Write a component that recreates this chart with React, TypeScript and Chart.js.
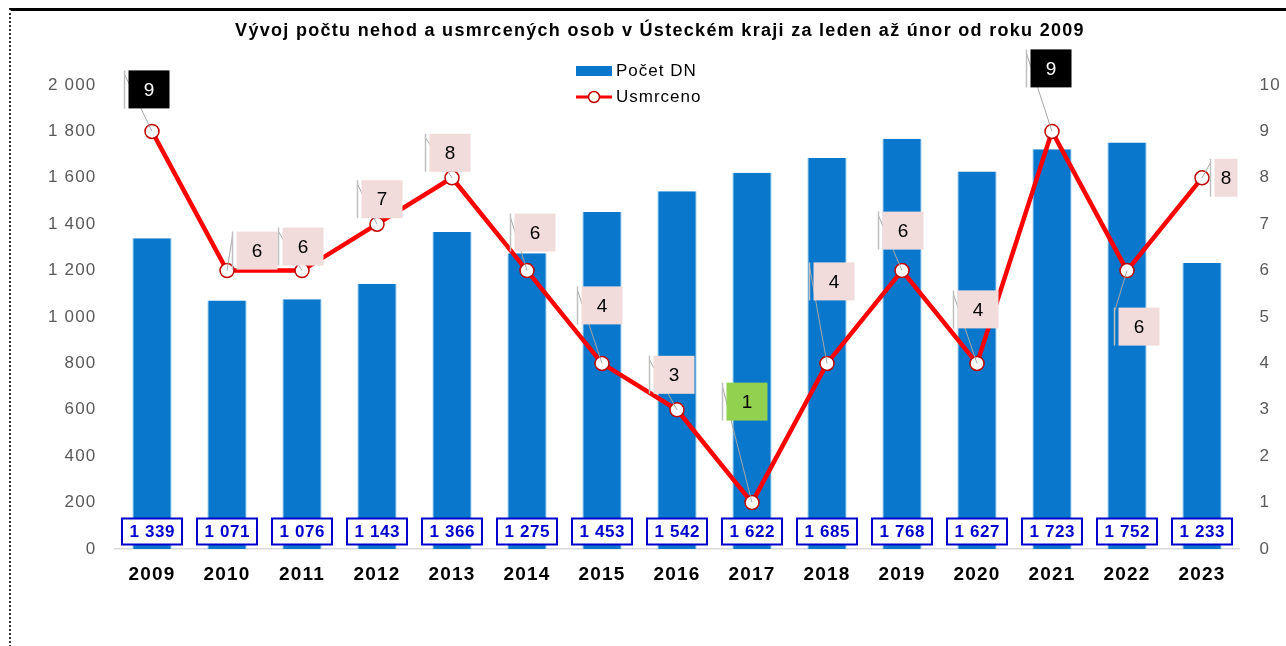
import React, { useEffect, useRef } from "react";
import { Chart, registerables } from "chart.js";

Chart.register(...registerables);

const TITLE = "Vývoj počtu nehod a usmrcených osob v Ústeckém kraji za leden až únor od roku 2009";
const years = ["2009", "2010", "2011", "2012", "2013", "2014", "2015", "2016", "2017", "2018", "2019", "2020", "2021", "2022", "2023"];
const accidents = [1339, 1071, 1076, 1143, 1366, 1275, 1453, 1542, 1622, 1685, 1768, 1627, 1723, 1752, 1233];
const deaths = [9, 6, 6, 7, 8, 6, 4, 3, 1, 4, 6, 4, 9, 6, 8];
const seriesNames = ["Počet DN", "Usmrceno"];
// label placement offsets (px) relative to the point (style only)
const labelDx = [-3, 30, 1, 5, -2, 8, 0, -3, -5, 7, 1, 1, -1, 12, 33];
const labelDy = [-42, -20, -24, -25, -25, -38, -58, -35, -101, -82, -40, -54, -63, 56, 0];

const BAR_COLOR = "#0877CC";
const FONT = "Arial, 'Liberation Sans', sans-serif";
const fmt = (v: number) => String(Math.round(v)).replace(/\B(?=(\d{3})+(?!\d))/g, " ");

const customPlugin = {
  id: "customDraw",
  beforeDraw(chart: any) {
    const ctx = chart.ctx;
    ctx.fillStyle = "#fff";
    ctx.fillRect(0, 0, chart.width, chart.height);
    ctx.letterSpacing = "1.2px";
  },
  afterDatasetsDraw(chart: any) {
    const ctx = chart.ctx;
    const area = chart.chartArea;
    const barMeta = chart.getDatasetMeta(0);
    const lineMeta = chart.getDatasetMeta(1);
    const yBottom = chart.scales.y.getPixelForValue(0);
    // bar value boxes
    ctx.save();
    ctx.letterSpacing = "0.6px";
    ctx.font = `bold 17px ${FONT}`;
    ctx.textAlign = "center";
    ctx.textBaseline = "middle";
    barMeta.data.forEach((bar: any, i: number) => {
      const w = 60, h = 26;
      const cx = bar.x, cy = yBottom - 17.5;
      ctx.fillStyle = "#ffffff";
      ctx.fillRect(cx - w / 2, cy - h / 2, w, h);
      ctx.strokeStyle = "#0000CC";
      ctx.lineWidth = 2;
      ctx.strokeRect(cx - w / 2, cy - h / 2, w, h);
      ctx.fillStyle = "#0000CC";
      ctx.fillText(fmt(accidents[i]), cx + 0.3, cy + 1);
    });
    ctx.restore();
    // line value labels
    ctx.save();
    ctx.beginPath();
    ctx.rect(0, 0, area.right - 2, chart.height);
    ctx.clip();
    const maxV = Math.max(...deaths);
    const minV = Math.min(...deaths);
    ctx.letterSpacing = "0px";
    ctx.font = `19px ${FONT}`;
    ctx.textAlign = "center";
    ctx.textBaseline = "middle";
    lineMeta.data.forEach((pt: any, i: number) => {
      const w = 41, h = 38;
      const cx = pt.x + labelDx[i];
      const cy = pt.y + labelDy[i];
      const left = cx - w / 2, top = cy - h / 2;
      ctx.strokeStyle = "#A6A6A6";
      ctx.lineWidth = 1;
      ctx.beginPath();
      ctx.moveTo(pt.x, pt.y);
      ctx.lineTo(left - 4, top + 4);
      ctx.stroke();
      ctx.strokeStyle = "#BFBFBF";
      ctx.lineWidth = 1.5;
      ctx.beginPath();
      ctx.moveTo(left - 4, top);
      ctx.lineTo(left - 4, top + h);
      ctx.stroke();
      let bg = "#F2DCDB", fg = "#000000";
      if (deaths[i] === maxV) { bg = "#000000"; fg = "#ffffff"; }
      else if (deaths[i] === minV) { bg = "#92D050"; fg = "#000000"; }
      ctx.fillStyle = bg;
      ctx.fillRect(left, top, w, h);
      ctx.fillStyle = fg;
      const tx = i === deaths.length - 1 ? pt.x + 24 : cx;
      ctx.fillText(String(deaths[i]), tx, cy + 1);
    });
    ctx.restore();
  },
  afterDraw(chart: any) {
    const ctx = chart.ctx;
    ctx.save();
    ctx.letterSpacing = "1.3px";
    ctx.fillStyle = "#000";
    ctx.font = `bold 18px ${FONT}`;
    ctx.textAlign = "center";
    ctx.textBaseline = "middle";
    ctx.fillText(TITLE, 660, 31);
    // legend
    ctx.letterSpacing = "1px";
    ctx.font = `17px ${FONT}`;
    ctx.textAlign = "left";
    ctx.fillStyle = BAR_COLOR;
    ctx.fillRect(576, 66, 36, 10);
    ctx.fillStyle = "#000";
    ctx.fillText(seriesNames[0], 616, 71);
    ctx.strokeStyle = "#FF0000";
    ctx.lineWidth = 3;
    ctx.beginPath();
    ctx.moveTo(576, 97);
    ctx.lineTo(612, 97);
    ctx.stroke();
    ctx.beginPath();
    ctx.arc(594, 97, 5.5, 0, Math.PI * 2);
    ctx.fillStyle = "#fff";
    ctx.fill();
    ctx.strokeStyle = "#C00000";
    ctx.lineWidth = 1.5;
    ctx.stroke();
    ctx.fillStyle = "#000";
    ctx.fillText(seriesNames[1], 616, 97);
    ctx.restore();
  },
};

export default function App() {
  const ref = useRef<HTMLCanvasElement | null>(null);
  useEffect(() => {
    document.body.style.margin = "0";
    const tickFont = { family: FONT, size: 17 };
    const chart = new Chart(ref.current as HTMLCanvasElement, {
      type: "bar",
      data: {
        labels: years,
        datasets: [
          {
            type: "bar",
            label: seriesNames[0],
            data: accidents,
            backgroundColor: BAR_COLOR,
            borderColor: "#5AA6E0",
            borderWidth: { left: 1, right: 1, top: 0, bottom: 0 },
            barPercentage: 0.52,
            categoryPercentage: 1,
            yAxisID: "y",
            order: 2,
          },
          {
            type: "line",
            label: seriesNames[1],
            data: deaths,
            borderColor: "#FF0000",
            borderWidth: 4.5,
            pointRadius: 7,
            pointBorderWidth: 1.5,
            pointBackgroundColor: "#FFFFFF",
            pointBorderColor: "#C00000",
            tension: 0,
            yAxisID: "y1",
            order: 1,
          },
        ],
      },
      options: {
        animation: false,
        responsive: false,
        maintainAspectRatio: false,
        layout: { padding: { top: 85, bottom: 0, left: 0, right: 0 } },
        plugins: { legend: { display: false }, title: { display: false }, tooltip: { enabled: false } },
        scales: {
          x: {
            grid: { display: false, drawTicks: false },
            border: { display: true, color: "#D9D9D9", width: 1.5 },
            ticks: { color: "#000", font: { family: FONT, size: 19, weight: "bold" }, padding: 14 },
            afterFit: (s: any) => { s.height = 97; },
          },
          y: {
            position: "left",
            min: 0,
            max: 2000,
            grid: { display: false, drawTicks: false },
            border: { display: false },
            ticks: { stepSize: 200, color: "#595959", font: tickFont, padding: 18, callback: (v: any) => fmt(Number(v)) },
            afterFit: (s: any) => { s.width = 114.5; },
          },
          y1: {
            position: "right",
            min: 0,
            max: 10,
            grid: { display: false, drawTicks: false },
            border: { display: false },
            ticks: { stepSize: 1, color: "#595959", font: tickFont, padding: 20 },
            afterFit: (s: any) => { s.width = 46.5; },
          },
        },
      },
      plugins: [customPlugin],
    } as any);
    return () => chart.destroy();
  }, []);
  return (
    <div style={{ position: "relative", width: 1286, height: 646, background: "#fff", overflow: "hidden" }}>
      <canvas ref={ref} width={1286} height={646} style={{ position: "absolute", left: 0, top: 0 }} />
      <div style={{ position: "absolute", left: 9, top: 8, width: 1290, height: 660, borderTop: "3px solid #000", borderLeft: "2px dotted #333", pointerEvents: "none" }} />
    </div>
  );
}
